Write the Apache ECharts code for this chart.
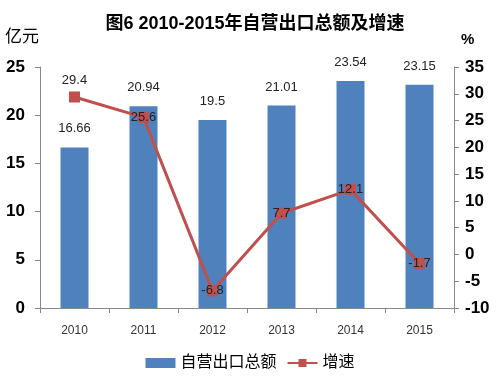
<!DOCTYPE html>
<html><head><meta charset="utf-8">
<script src="https://cdn.jsdelivr.net/npm/echarts@6/dist/echarts.min.js"></script>
<style>html,body{margin:0;padding:0;background:#fff}#c{width:500px;height:388px}</style>
</head><body><div id="c"></div>
<script>
const categories = ['2010','2011','2012','2013','2014','2015'];
const exportValues = [16.66, 20.94, 19.5, 21.01, 23.54, 23.15];
const growthValues = [29.4, 25.6, -6.8, 7.7, 12.1, -1.7];
const leftTicks = [0, 25, 5];
const rightTicks = [-10, 35, 5];
const FONT = '"Liberation Sans","Noto Sans CJK SC",sans-serif';
const chart = echarts.init(document.getElementById('c'), null, {renderer:'canvas'});
chart.setOption({
  animation:false,
  backgroundColor:'#fff',
  title:{text:'图6 2010-2015年自营出口总额及增速', left:250, top:10, textAlign:'center',
    textStyle:{fontSize:18, fontWeight:'bold', color:'#000', fontFamily:FONT}},
  graphic:[
    {type:'text', left:5, top:29, style:{text:'亿元', fontSize:17, fill:'#000', fontFamily:FONT}},
    {type:'text', left:461, top:32, style:{text:'%', fontSize:15, fontWeight:'bold', fill:'#000', fontFamily:FONT}}
  ],
  legend:{bottom:12, left:'center', itemGap:10, itemWidth:30, itemHeight:10,
    textStyle:{fontSize:16, color:'#000', fontFamily:FONT},
    data:[{name:'自营出口总额', icon:'rect'}, {name:'增速'}]},
  grid:{left:40, right:46, top:67, bottom:80},
  xAxis:{type:'category', data:categories,
    axisLine:{lineStyle:{color:'#888'}},
    axisTick:{show:true, alignWithLabel:false, length:5, lineStyle:{color:'#888'}},
    axisLabel:{fontSize:12, color:'#333', margin:17, fontFamily:FONT}},
  yAxis:[
    {type:'value', min:leftTicks[0], max:leftTicks[1], interval:leftTicks[2],
      axisLine:{show:true, lineStyle:{color:'#888'}},
      axisTick:{show:true, length:5, inside:false, lineStyle:{color:'#888'}},
      splitLine:{show:false},
      axisLabel:{fontSize:17, fontWeight:'bold', color:'#000', margin:15, fontFamily:FONT}},
    {type:'value', min:rightTicks[0], max:rightTicks[1], interval:rightTicks[2],
      axisLine:{show:true, lineStyle:{color:'#888'}},
      axisTick:{show:true, length:5, lineStyle:{color:'#888'}},
      splitLine:{show:false},
      axisLabel:{fontSize:17, fontWeight:'bold', color:'#000', margin:11, fontFamily:FONT}}
  ],
  series:[
    {name:'自营出口总额', type:'bar', data:exportValues, barWidth:28, yAxisIndex:0,
      itemStyle:{color:'#4F81BD'},
      label:{show:true, position:'top', distance:12, fontSize:13, color:'#222', fontFamily:FONT}},
    {name:'增速', type:'line', yAxisIndex:1,
      data:growthValues.map((v,i)=> i===0 ? {value:v, label:{position:'top', distance:5}} : v),
      symbol:'rect', symbolSize:11,
      lineStyle:{color:'#C0504D', width:3},
      itemStyle:{color:'#C0504D'},
      label:{show:true, position:'inside', fontSize:13, color:'#222', fontFamily:FONT}}
  ]
});
</script></body></html>
